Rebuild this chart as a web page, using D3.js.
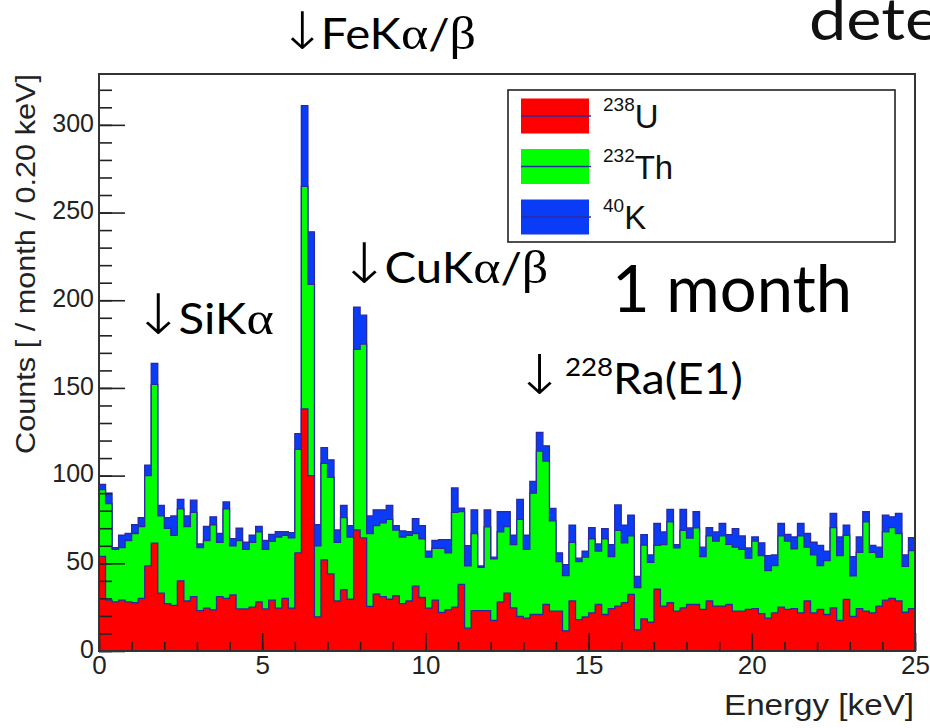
<!DOCTYPE html>
<html>
<head>
<meta charset="utf-8">
<script src="https://cdn.jsdelivr.net/npm/d3@7"></script>
<style>
  body { margin: 0; background: #fff; }
</style>
</head>
<body>
<div id="chart"></div>
<script>
// 125 bins of 0.20 keV, counts per month
const binWidth = 0.2;
const u238 = [54, 29, 28, 29, 28, 27.5, 30, 48.5, 61.5, 33,
  27, 26, 40, 28.5, 31, 23, 24.5, 23.5, 31, 30,
  32, 24, 24, 25, 28, 24, 29, 24.5, 30, 24.5,
  56, 138, 100, 19.5, 52, 44, 28.5, 35, 29.5, 69,
  64.5, 25.5, 32.5, 31, 29.5, 31.5, 27, 28.5, 37, 30.5,
  24.5, 29, 22, 23.5, 25, 38, 13, 23, 23, 23,
  17.5, 28, 33, 24.6, 19.8, 18.8, 20.8, 20.8, 26.5, 22.7,
  22.7, 11.5, 28.5, 17.9, 19.4, 21.7, 26.5, 20.8, 24.2, 25.6,
  27.5, 32.3, 12.1, 18.3, 16.5, 35.2, 25.6, 27.5, 22.7, 24.6,
  26.5, 26.5, 23.7, 28.5, 25.6, 25.6, 26.5, 22.7, 22.7, 23.7,
  24.2, 21.3, 18.8, 21.7, 25, 23.7, 24.2, 21.7, 28.5, 21.7,
  23.7, 20.8, 24.6, 17.5, 29.4, 19.8, 24.2, 22.7, 21.7, 25.6,
  29, 30, 28.5, 22.1, 24.2];
const th232 = [38, 55, 30, 30, 35, 39.5, 41, 51.5, 90.5, 44,
  43, 40, 41, 42.5, 48, 36, 38.5, 48.5, 31, 51,
  28, 39, 34, 37, 40, 34, 33.5, 40.5, 36, 40,
  59, 127, 109, 40.5, 55, 55, 33.5, 41, 35.5, 103,
  110.5, 41.5, 39, 42, 45.5, 37.5, 38, 37.5, 30, 33.5,
  29, 29.5, 36.5, 32.5, 54, 41.5, 35.5, 44, 24.7, 47.8,
  35, 40, 38, 36, 55.2, 39.2, 69.2, 93.2, 81.8, 51.5,
  28.3, 31.5, 33.5, 33.1, 34.1, 42.3, 30.5, 43.2, 29.6, 43.2,
  34.2, 33.3, 24.1, 42.1, 34.1, 25, 35, 46.2, 36.1, 44.2,
  37.9, 43.7, 30.1, 37.1, 37.1, 40, 34.3, 36.5, 35.2, 29.2,
  38.5, 33.1, 27, 27, 40.6, 39, 34.1, 43.9, 30.7, 33.1,
  25, 30.7, 45.8, 36.9, 36.6, 23.1, 32.1, 51, 34.6, 27.9,
  38.9, 40.4, 38.5, 26.2, 33.1];
const k40 = [3, 6, 1, 7, 4, 5, 5, 6, 12, 6,
  6, 11, 5.5, 6, 7, 2, 8, 4.5, 5, 4,
  4, 7, 4, 4, 3, 5, 4, 3, 2, 3,
  9, 46, 30, 12, 9, 10, 7, 7, 6.5, 24,
  16.5, 10, 9, 7.5, 8, 2.5, 3.5, 2, 8.5, 7.5,
  3.5, 4.5, 5, 7.5, 14, 2, 11.5, 13.5, 0.8, 9.6,
  1, 11.5, 8.5, 5.4, 11.5, 8, 6.7, 10.6, 8.7, 7.1,
  5, 6.2, 9.7, 1.9, 3.5, 6.4, 4, 5.8, 6.8, 14.5,
  10, 11.9, 6.3, 5.9, 4.2, 12.5, 7.3, 7.1, 1.8, 12,
  5.8, 9.2, 5.4, 4.8, 5.2, 7.1, 5.5, 10.6, 7.7, 5.9,
  2.3, 7.3, 8.6, 6.1, 7.1, 3.8, 6.7, 7.1, 7.8, 7.2,
  11.5, 5.5, 8.1, 10.6, 5.7, 10.9, 8.7, 5.7, 3.9, 5.7,
  9.6, 6.1, 11.5, 6.5, 7.3];

const seriesKeys = ["u238", "th232", "k40"];
const seriesMass = ["238", "232", "40"];
const seriesSymbol = ["U", "Th", "K"];
const seriesColors = ["#ff0000", "#00ff00", "#0a3cf8"];

const xTicks = [0, 5, 10, 15, 20, 25];
const xMinorTicks = d3.range(0, 26, 1);
const yTicks = [0, 50, 100, 150, 200, 250, 300];
const yMinorTicks = d3.range(0, 330, 10);

const width = 930, height = 728;
const outline = "#2a2aa0";

const svg = d3.select("#chart").append("svg")
  .attr("width", width)
  .attr("height", height)
  .style("font-family", "'Liberation Sans', Arial, sans-serif");

const x = d3.scaleLinear().domain([0, 25]).range([99, 915]);
const y = d3.scaleLinear().domain([0, 329]).range([651, 74]);

svg.append("clipPath").attr("id", "frame")
  .append("rect")
  .attr("x", x(0)).attr("y", y(329))
  .attr("width", x(25) - x(0)).attr("height", y(0) - y(329));

// stacked histogram, drawn like a THStack: total first, then each lower sum on top
const rows = u238.map((d, i) => ({ e: i * binWidth, u238: d, th232: th232[i], k40: k40[i] }));
const stacked = d3.stack().keys(seriesKeys)(rows);

const area = d3.area().curve(d3.curveStepAfter)
  .x(d => x(d.e)).y0(y(0)).y1(d => y(d.hi));
const step = d3.line().curve(d3.curveStepAfter)
  .x(d => x(d.e)).y(d => y(d.hi));

const plot = svg.append("g").attr("clip-path", "url(#frame)");
for (let k = stacked.length - 1; k >= 0; k--) {
  const pts = stacked[k].map((d, i) => ({ e: rows[i].e, hi: d[1] }));
  pts.push({ e: 25, hi: pts[pts.length - 1].hi });
  plot.append("path").attr("d", area(pts)).attr("fill", seriesColors[k]);
  plot.append("path").attr("d", step(pts))
    .attr("fill", "none").attr("stroke", outline).attr("stroke-width", 1.3);
}

// axes
const xAxis = svg.append("g").attr("transform", `translate(0,${y(0)})`)
  .call(d3.axisBottom(x).tickValues(xTicks).tickSize(-18).tickPadding(5));
svg.append("g").attr("transform", `translate(0,${y(0)})`)
  .call(d3.axisBottom(x).tickValues(xMinorTicks).tickSize(-9).tickFormat(""));
const yAxis = svg.append("g").attr("transform", `translate(${x(0)},0)`)
  .call(d3.axisLeft(y).tickValues(yTicks).tickSize(-26).tickPadding(5));
svg.append("g").attr("transform", `translate(${x(0)},0)`)
  .call(d3.axisLeft(y).tickValues(yMinorTicks).tickSize(-13).tickFormat(""));

svg.selectAll(".domain").remove();
svg.selectAll(".tick line").attr("stroke", "#222").attr("stroke-width", 1.6);
xAxis.selectAll("text").attr("font-size", 26).attr("fill", "#222")
  .attr("font-family", "'Liberation Sans', Arial, sans-serif");
yAxis.selectAll("text").attr("font-size", 25).attr("fill", "#222").attr("dy", "0.25em")
  .attr("font-family", "'Liberation Sans', Arial, sans-serif");

svg.append("rect")
  .attr("x", x(0)).attr("y", y(329))
  .attr("width", x(25) - x(0)).attr("height", y(0) - y(329))
  .attr("fill", "none").attr("stroke", "#333").attr("stroke-width", 2);

svg.append("text")
  .attr("x", 914).attr("y", 715)
  .attr("text-anchor", "end")
  .attr("font-size", 29).attr("fill", "#222")
  .attr("textLength", 190).attr("lengthAdjust", "spacingAndGlyphs")
  .text("Energy [keV]");

svg.append("text")
  .attr("transform", "translate(35,74) rotate(-90)")
  .attr("text-anchor", "end")
  .attr("font-size", 27).attr("fill", "#222")
  .attr("textLength", 380).attr("lengthAdjust", "spacingAndGlyphs")
  .text("Counts [ / month / 0.20 keV]");

// legend
const legend = svg.append("g");
legend.append("rect")
  .attr("x", 508).attr("y", 90).attr("width", 387).attr("height", 152)
  .attr("fill", "#fff").attr("stroke", "#222").attr("stroke-width", 1.6);
seriesKeys.forEach((key, i) => {
  const cy = 116 + i * 50.5;
  legend.append("rect")
    .attr("x", 521).attr("y", cy - 17.5).attr("width", 68).attr("height", 35)
    .attr("fill", seriesColors[i]);
  legend.append("line")
    .attr("x1", 521).attr("x2", 591).attr("y1", cy).attr("y2", cy)
    .attr("stroke", outline).attr("stroke-width", 1.3);
  const t = legend.append("text").attr("x", 603).attr("y", cy + 12).attr("fill", "#111");
  t.append("tspan").attr("font-size", 19).attr("dy", -17).text(seriesMass[i]);
  t.append("tspan").attr("font-size", 33).attr("dy", 17).text(seriesSymbol[i]);
});

// annotations (slide text, slightly wide as in the slide)
const note = "Lato, 'Open Sans', sans-serif";
const greek = "'Liberation Serif', 'DejaVu Serif', serif";
function annotate(px, py, size, parts, arrowScale = 1.3) {
  const t = svg.append("text")
    .attr("transform", `translate(${px},${py}) scale(1.1,1)`)
    .attr("font-size", size).attr("fill", "#000").attr("font-family", note);
  parts.forEach(p => {
    const s = t.append("tspan").text(p.s);
    if (p.greek) s.attr("font-family", greek).attr("font-size", size * 1.1);
    if (p.arrow) s.attr("font-family", "'DejaVu Sans', sans-serif")
      .attr("font-weight", 300).attr("font-size", size * arrowScale).attr("dx", -4);
    if (p.sup) s.attr("font-size", size * 0.6).attr("dy", -size * 0.42);
    if (p.down) s.attr("dy", size * 0.42);
    if (p.tight) s.attr("dx", -5);
  });
}
annotate(283, 49, 43, [{ s: "↓", arrow: true }, { s: "FeK", tight: true }, { s: "α", greek: true }, { s: "/" }, { s: "β", greek: true }], 1.2);
annotate(137, 334, 43, [{ s: "↓", arrow: true }, { s: "SiK", tight: true }, { s: "α", greek: true }]);
annotate(343, 283, 43, [{ s: "↓", arrow: true }, { s: "CuK", tight: true }, { s: "α", greek: true }, { s: "/" }, { s: "β", greek: true }]);
annotate(519, 394, 42, [{ s: "↓", arrow: true }, { s: "228", sup: true }, { s: "Ra(E1)", down: true }]);

svg.append("text").attr("x", 612).attr("y", 312)
  .attr("font-family", note).attr("font-size", 65).attr("fill", "#000")
  .text("1 month");
svg.append("text")
  .attr("transform", "translate(809,40) scale(1.15,1)")
  .attr("font-family", note).attr("font-size", 58).attr("fill", "#111")
  .text("detector");
</script>
</body>
</html>
